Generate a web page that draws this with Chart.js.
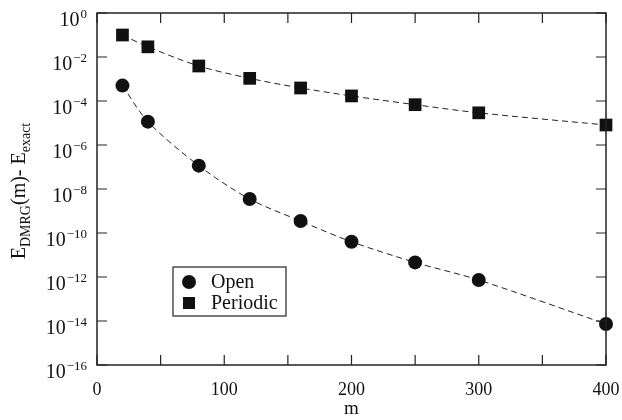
<!DOCTYPE html>
<html>
<head>
<meta charset="utf-8">
<script src="https://cdn.jsdelivr.net/npm/chart.js@4/dist/chart.umd.min.js"></script>
<style>
html,body{margin:0;padding:0;background:#fff;}
#wrap{width:622px;height:420px;position:relative;}
</style>
</head>
<body>
<div id="wrap"><canvas id="c" width="622" height="420"></canvas></div>
<script>
const mValues = [20, 40, 80, 120, 160, 200, 250, 300, 400];
const openErr = [5e-4, 1.15e-5, 1.15e-7, 3.5e-9, 3.5e-10, 4e-11, 4.6e-12, 7.3e-13, 7.3e-15];
const periodicErr = [1e-1, 2.9e-2, 3.9e-3, 1.07e-3, 3.9e-4, 1.7e-4, 6.8e-5, 2.9e-5, 8.1e-6];
const seriesNames = ['Open', 'Periodic'];
const yTickExponents = [0, -2, -4, -6, -8, -10, -12, -14, -16];
const xTickValues = [0, 50, 100, 150, 200, 250, 300, 350, 400];
const xLabelValues = [0, 100, 200, 300, 400];

const INK = '#111';
const SERIF = '"Liberation Serif", "Times New Roman", serif';

const decor = {
  id: 'decor',
  afterDraw(chart) {
    const ctx = chart.ctx;
    const a = chart.chartArea;
    const xs = chart.scales.x, ys = chart.scales.y;
    ctx.save();
    // frame
    ctx.strokeStyle = '#222';
    ctx.lineWidth = 1.5;
    ctx.strokeRect(a.left, a.top, a.right - a.left, a.bottom - a.top);
    // inward ticks
    ctx.lineWidth = 1.2;
    const TL = 10;
    ctx.beginPath();
    xTickValues.forEach(v => {
      const px = xs.getPixelForValue(v);
      ctx.moveTo(px, a.bottom); ctx.lineTo(px, a.bottom - TL);
      ctx.moveTo(px, a.top); ctx.lineTo(px, a.top + TL);
    });
    yTickExponents.forEach(e => {
      const py = ys.getPixelForValue(Math.pow(10, e));
      ctx.moveTo(a.left, py); ctx.lineTo(a.left + TL, py);
      ctx.moveTo(a.right, py); ctx.lineTo(a.right - TL, py);
    });
    ctx.stroke();
    // y tick labels 10^e
    ctx.fillStyle = INK;
    ctx.textBaseline = 'alphabetic';
    yTickExponents.forEach(e => {
      const py = ys.getPixelForValue(Math.pow(10, e));
      const sup = e === 0 ? '0' : '\u2212' + Math.abs(e);
      ctx.font = '13px ' + SERIF;
      const sw = ctx.measureText(sup).width;
      ctx.font = '20px ' + SERIF;
      const bw = ctx.measureText('10').width;
      const right = a.left - 10;
      ctx.textAlign = 'left';
      ctx.fillText('10', right - sw - bw - 1, py + 13);
      ctx.font = '13px ' + SERIF;
      ctx.fillText(sup, right - sw, py + 5);
    });
    // y axis title
    const segs = [
      {t: 'E', s: 20, dy: 0},
      {t: 'DMRG', s: 14, dy: 5},
      {t: '(m)- E', s: 20, dy: 0},
      {t: 'exact', s: 14, dy: 5}
    ];
    let total = 0;
    segs.forEach(sg => { ctx.font = sg.s + 'px ' + SERIF; sg.w = ctx.measureText(sg.t).width; total += sg.w; });
    ctx.translate(25, (a.top + a.bottom) / 2 + 2);
    ctx.rotate(-Math.PI / 2);
    let x0 = -total / 2;
    ctx.textAlign = 'left';
    segs.forEach(sg => {
      ctx.font = sg.s + 'px ' + SERIF;
      ctx.fillText(sg.t, x0, sg.dy);
      x0 += sg.w;
    });
    ctx.restore();

    // legend
    ctx.save();
    const lx = 173, ly = 267, lw = 113, lh = 49;
    ctx.fillStyle = '#fff';
    ctx.fillRect(lx, ly, lw, lh);
    ctx.strokeStyle = '#222';
    ctx.lineWidth = 1.2;
    ctx.strokeRect(lx, ly, lw, lh);
    ctx.fillStyle = INK;
    ctx.beginPath();
    ctx.arc(189, 282, 7, 0, Math.PI * 2);
    ctx.fill();
    ctx.fillRect(189 - 6, 303 - 6, 12, 12);
    ctx.font = '20px ' + SERIF;
    ctx.textAlign = 'left';
    ctx.textBaseline = 'alphabetic';
    ctx.fillText(seriesNames[0], 211, 288);
    ctx.fillText(seriesNames[1], 211, 309);
    ctx.restore();
  }
};

new Chart(document.getElementById('c'), {
  type: 'line',
  data: {
    datasets: [
      {
        label: seriesNames[0],
        data: mValues.map((m, i) => ({x: m, y: openErr[i]})),
        borderColor: '#222',
        borderWidth: 1,
        borderDash: [6, 4],
        pointStyle: 'circle',
        pointRadius: 7,
        pointBackgroundColor: INK,
        pointBorderColor: INK,
        pointBorderWidth: 0,
        tension: 0.3,
        clip: false
      },
      {
        label: seriesNames[1],
        data: mValues.map((m, i) => ({x: m, y: periodicErr[i]})),
        borderColor: '#222',
        borderWidth: 1,
        borderDash: [6, 4],
        pointStyle: 'rect',
        pointRadius: 9,
        pointBackgroundColor: INK,
        pointBorderColor: INK,
        pointBorderWidth: 0,
        tension: 0.3,
        clip: false
      }
    ]
  },
  options: {
    responsive: false,
    animation: false,
    layout: {padding: {top: 13, right: 16, left: 0, bottom: 0}},
    plugins: {legend: {display: false}, tooltip: {enabled: false}},
    scales: {
      x: {
        type: 'linear',
        min: 0, max: 400,
        afterFit: s => { s.height = 55; s.paddingLeft = 0; s.paddingRight = 0; },
        grid: {display: false, drawTicks: false},
        border: {display: false},
        afterBuildTicks: s => { s.ticks = xLabelValues.map(v => ({value: v})); },
        ticks: {
          color: INK,
          font: {family: SERIF, size: 18},
          padding: 14,
          maxRotation: 0,
          autoSkip: false
        },
        title: {
          display: true, text: 'm', color: INK,
          font: {family: SERIF, size: 19},
          padding: {top: 0, bottom: 0}
        }
      },
      y: {
        type: 'logarithmic',
        min: 1e-16, max: 1,
        afterFit: s => { s.width = 97; s.paddingTop = 0; s.paddingBottom = 0; },
        grid: {display: false, drawTicks: false},
        border: {display: false},
        ticks: {display: false}
      }
    }
  },
  plugins: [decor]
});
</script>
</body>
</html>
